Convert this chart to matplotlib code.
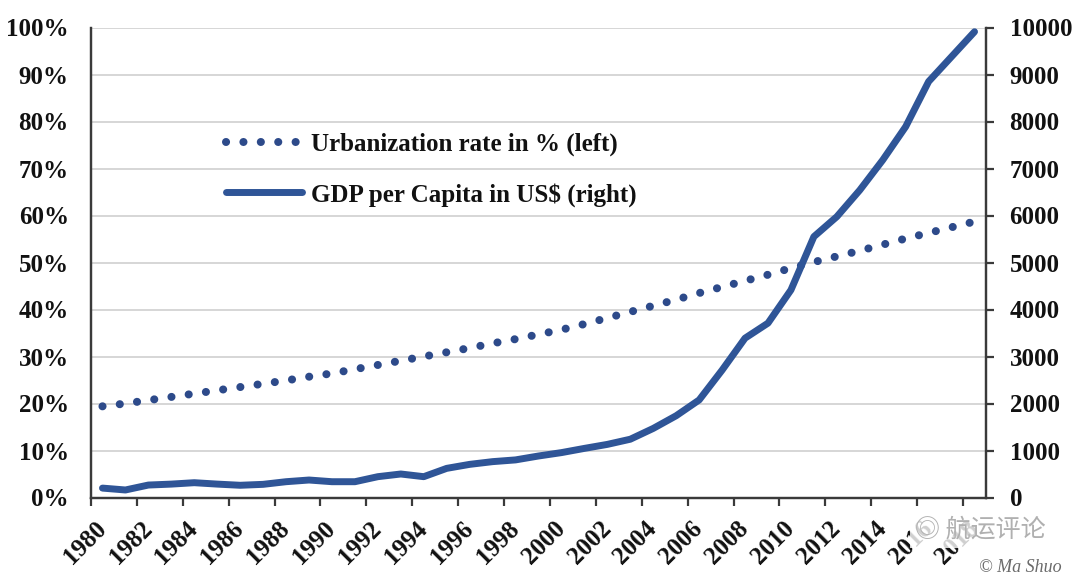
import matplotlib
matplotlib.use("Agg")
import matplotlib.pyplot as plt
from matplotlib.lines import Line2D
from matplotlib.ticker import FixedLocator, FuncFormatter

# ---- data ----
years = list(range(1980, 2019))
urbanization = [19.4, 20.0, 20.7, 21.4, 22.1, 22.8, 23.5, 24.2, 24.9, 25.7,
                26.4, 27.3, 28.2, 29.1, 30.0, 30.9, 31.8, 32.8, 33.7, 34.7,
                35.7, 36.9, 38.2, 39.5, 40.8, 42.1, 43.5, 44.8, 46.1, 47.4,
                48.8, 50.1, 51.3, 52.5, 53.8, 55.1, 56.3, 57.5, 58.7]
gdp_per_capita = [200, 160, 265, 285, 315, 285, 260, 280, 336, 372,
                  336, 336, 443, 500, 443, 620, 705, 763, 800, 883,
                  955, 1045, 1130, 1240, 1470, 1740, 2075, 2710, 3390, 3710,
                  4415, 5550, 5975, 6540, 7180, 7890, 8850, 9380, 9910]
label_years = years[::2]
left_ticks = [0, 10, 20, 30, 40, 50, 60, 70, 80, 90, 100]
right_ticks = [0, 1000, 2000, 3000, 4000, 5000, 6000, 7000, 8000, 9000, 10000]
legend_labels = ["Urbanization rate in % (left)", r"GDP per Capita in US\$ (right)"]

# ---- style ----
W, H = 1080, 581
DPI = 100
serif = ["Liberation Serif", "DejaVu Serif"]
txt_color = "#111111"
spine_color = "#3a3a3a"
dot_color = "#2D4A8A"
line_color = "#2F5597"
dot_style = (0, (0.01, 2.15))
lw_dot = 5.8
lw_line = 5.0

fig = plt.figure(figsize=(W / DPI, H / DPI), dpi=DPI)
fig.patch.set_facecolor("white")
ax = fig.add_axes([91 / W, 1 - 497.5 / H, (986 - 91) / W, (497.5 - 27.5) / H])
ax2 = ax.twinx()

l1, = ax.plot(years, urbanization, color=dot_color, lw=lw_dot,
              linestyle=dot_style, dash_capstyle="round", zorder=3)
l2, = ax2.plot(years, gdp_per_capita, color=line_color, lw=lw_line,
               solid_capstyle="round", solid_joinstyle="round", zorder=3)

ax.set_xlim(1979.5, 2018.5)
ax.set_ylim(0, 100)
ax2.set_ylim(0, 10000)

# grid
for v in left_ticks[1:]:
    ax.axhline(v, color="#D6D6D6", lw=1.4, zorder=0)

# spines
for a in (ax, ax2):
    a.spines["top"].set_visible(False)
    for s in ("left", "right", "bottom"):
        a.spines[s].set_color(spine_color)
        a.spines[s].set_linewidth(1.6)

# left axis
ax.set_yticks(left_ticks)
ax.yaxis.set_major_formatter(FuncFormatter(lambda v, p: f"{int(v)}%"))
ax.tick_params(axis="y", length=0, pad=16, labelsize=18, labelcolor=txt_color)

# right axis
ax2.set_yticks(right_ticks)
ax2.yaxis.set_major_formatter(FuncFormatter(lambda v, p: f"{int(v)}"))
ax2.tick_params(axis="y", direction="out", length=6, width=1.6, color=spine_color,
                pad=11, labelsize=18, labelcolor=txt_color)

# x axis: labels at categories, ticks at boundaries
ax.set_xticks(label_years)
ax.set_xticklabels([str(y) for y in label_years])
ax.xaxis.set_minor_locator(FixedLocator([y - 0.5 for y in label_years]))
ax.tick_params(axis="x", which="major", length=0, pad=20, labelsize=18, labelcolor=txt_color)
ax.tick_params(axis="x", which="minor", direction="out", length=6, width=1.6, color=spine_color)
for lab in ax.get_xticklabels():
    lab.set_rotation(45)
    lab.set_ha("right")
    lab.set_va("center")
    lab.set_rotation_mode("anchor")

for lab in ax.get_xticklabels() + ax.get_yticklabels() + ax2.get_yticklabels():
    lab.set_fontfamily(serif)
    lab.set_fontweight("bold")

# legend
h1 = Line2D([], [], color=dot_color, lw=lw_dot, linestyle=dot_style,
            dash_capstyle="round")
h2 = Line2D([], [], color=line_color, lw=lw_line, solid_capstyle="round")
leg = ax.legend([h1, h2], legend_labels, loc="upper left",
                bbox_to_anchor=(226 / W, 1 - 133 / H), bbox_transform=fig.transFigure,
                frameon=False, handlelength=3.05, handletextpad=0.35,
                labelspacing=1.05, borderpad=0, borderaxespad=0,
                prop={"family": serif, "weight": "bold", "size": 18})
for t in leg.get_texts():
    t.set_color(txt_color)

# watermark (overlays the last year labels, as in the reference)
fig.text(1046 / W, 1 - 530 / H, "◎ 航运评论", ha="right", va="center",
         fontsize=18, color="#B0B0B0", family=["Noto Sans CJK SC", "DejaVu Sans"],
         bbox=dict(boxstyle="square,pad=0.2", fc="white", ec="none", alpha=0.8))
fig.text(1062 / W, 1 - 567 / H, "© Ma Shuo", ha="right", va="center",
         fontsize=13, color="#6a6a6a", family=serif, style="italic")

fig.savefig("out.png", dpi=DPI, facecolor="white")
